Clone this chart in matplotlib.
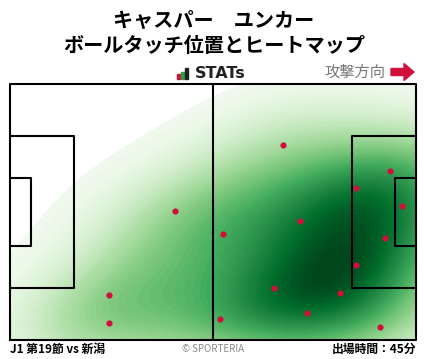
import numpy as np
import matplotlib
matplotlib.use("Agg")
import matplotlib.pyplot as plt
from matplotlib.patches import Rectangle, FancyArrow

plt.rcParams['font.family'] = ['Noto Sans CJK JP', 'DejaVu Sans']

player = "キャスパー　ユンカー"
subtitle = "ボールタッチ位置とヒートマップ"
match_label = "J1 第19節 vs 新潟"
minutes_label = "出場時間：45分"

# touch positions in pitch metres (x: 0-105 attacking right, y: 0-68 bottom->top)
touch_x = [70.7, 98.3, 89.6, 101.3, 74.9, 55.2, 97.1, 89.6, 68.4, 85.3, 76.9, 54.4, 95.6, 42.8, 25.7, 25.7]
touch_y = [51.7, 44.8, 40.3, 35.5, 31.5, 28.2, 27.0, 19.8, 13.9, 12.4, 7.1, 5.5, 3.4, 34.2, 11.9, 4.5]

W, H = 428, 359
fig = plt.figure(figsize=(W / 100, H / 100), dpi=100)
ax = fig.add_axes([10 / W, (H - 340) / H, 406 / W, 256 / H])
ax.set_xlim(0, 105)
ax.set_ylim(0, 68)
ax.axis('off')

# KDE heatmap
pts = np.vstack([touch_x, touch_y])
n = pts.shape[1]
cov = np.cov(pts) * (n ** (-1 / 6)) ** 2 * 1.3
inv = np.linalg.inv(cov)
gx, gy = np.meshgrid(np.linspace(0, 105, 300), np.linspace(0, 68, 200))
grid = np.vstack([gx.ravel(), gy.ravel()])
dens = np.zeros(grid.shape[1])
for i in range(n):
    d = grid - pts[:, i:i + 1]
    dens += np.exp(-0.5 * np.sum(d * (inv @ d), axis=0))
dens = dens.reshape(gx.shape)
dens /= dens.max()
cmap = plt.get_cmap('Greens')
ax.contourf(gx, gy, dens, levels=np.linspace(0.04, 1.0, 60), cmap=cmap,
            vmin=0.0, vmax=1.0, extend='neither', zorder=1)

lw = 1.5
# pitch lines
ax.plot([0, 105, 105, 0, 0], [0, 0, 68, 68, 0], color='black', lw=lw, zorder=3, clip_on=False)
ax.plot([52.5, 52.5], [0, 68], color='black', lw=lw, zorder=3)
pb_w, pb_d = 40.3, 16.5
ga_w, ga_d = 18.3, 5.5
for x0, d in [(0, 1), (105, -1)]:
    ax.plot([x0, x0 + d * pb_d, x0 + d * pb_d, x0], [34 - pb_w / 2, 34 - pb_w / 2, 34 + pb_w / 2, 34 + pb_w / 2],
            color='black', lw=lw, zorder=3)
    ax.plot([x0, x0 + d * ga_d, x0 + d * ga_d, x0], [34 - ga_w / 2, 34 - ga_w / 2, 34 + ga_w / 2, 34 + ga_w / 2],
            color='black', lw=lw, zorder=3)

ax.scatter(touch_x, touch_y, s=20, color='#d0103a', zorder=4, linewidths=0)

# header texts
fig.text(0.5, 1 - 20 / H, player, ha='center', va='center', fontsize=14.5, fontweight='bold')
fig.text(0.5, 1 - 46 / H, subtitle, ha='center', va='center', fontsize=14.5, fontweight='bold')

# STATs logo
for bx, bh, c in [(177, 5, '#d0103a'), (181, 7, '#2e9e44'), (185, 11, '#222222')]:
    fig.patches.append(Rectangle((bx / W, (H - 79) / H), 3 / W, bh / H, transform=fig.transFigure,
                                 color=c, zorder=5))
fig.text(195 / W, 1 - 73.5 / H, "STATs", ha='left', va='center', fontsize=11.5, fontweight='bold',
         color='#222222', family=['DejaVu Sans'])

fig.text(385 / W, 1 - 72 / H, "攻撃方向", ha='right', va='center', fontsize=11, color='#777777')
fig.patches.append(FancyArrow(391 / W, 1 - 72 / H, 23 / W, 0, width=7 / H, head_width=17 / H,
                              head_length=10 / W, length_includes_head=True, transform=fig.transFigure,
                              color='#d0103a', zorder=5))

# footer texts
fig.text(10 / W, 1 - 349 / H, match_label, ha='left', va='center', fontsize=8.5, fontweight='bold')
fig.text(213 / W, 1 - 349 / H, "© SPORTERIA", ha='center', va='center', fontsize=7, color='#888888')
fig.text(416 / W, 1 - 349 / H, minutes_label, ha='right', va='center', fontsize=8.5, fontweight='bold')

fig.savefig("out.png", dpi=100)
